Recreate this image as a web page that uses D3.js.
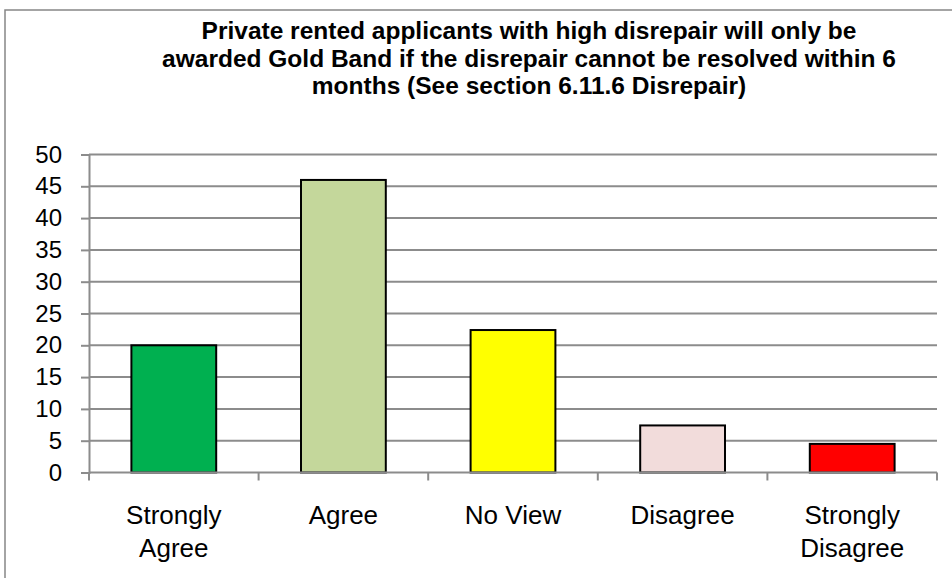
<!DOCTYPE html>
<html>
<head>
<meta charset="utf-8">
<script src="https://cdn.jsdelivr.net/npm/d3@7"></script>
<style>
  body { margin: 0; background: #fff; }
  text { font-family: "Liberation Sans", Arial, sans-serif; }
</style>
</head>
<body>
<svg id="chart" width="952" height="578"></svg>
<script>
// survey answers, percent of respondents
var categories = ['Strongly Agree', 'Agree', 'No View', 'Disagree', 'Strongly Disagree'];
var labelLines = [['Strongly', 'Agree'], ['Agree'], ['No View'], ['Disagree'], ['Strongly', 'Disagree']];
var values = [20, 46, 22.4, 7.4, 4.5];
var barColors = ['#00b050', '#c4d79b', '#ffff00', '#f2dcdb', '#ff0000'];
var yTicks = [0, 5, 10, 15, 20, 25, 30, 35, 40, 45, 50];
var titleLines = [
  'Private rented applicants with high disrepair will only be',
  'awarded Gold Band if the disrepair cannot be resolved within 6',
  'months (See section 6.11.6 Disrepair)'
];

var svg = d3.select('#chart');
var plotLeft = 89, plotRight = 937, plotTop = 154.5, plotBottom = 472.5;

// chart frame
svg.append('rect')
  .attr('x', 5).attr('y', 10)
  .attr('width', 960).attr('height', 600)
  .attr('fill', 'none')
  .attr('stroke', '#868686')
  .attr('stroke-width', 1.5);

svg.append('text')
  .attr('x', 529)
  .attr('y', 39)
  .attr('text-anchor', 'middle')
  .attr('font-size', 24.5)
  .attr('font-weight', 'bold')
  .selectAll('tspan')
  .data(titleLines)
  .enter()
  .append('tspan')
  .attr('x', 529)
  .attr('dy', function(d, i){ return i === 0 ? 0 : 27.5; })
  .text(function(d){ return d; });

var xScale = d3.scaleBand()
  .domain(categories)
  .range([plotLeft, plotRight])
  .paddingInner(0.5)
  .paddingOuter(0.25);
var bandScale = d3.scaleBand().domain(categories).range([plotLeft, plotRight]);
var yScale = d3.scaleLinear().domain([0, 50]).range([plotBottom, plotTop]);

// gridlines
svg.append('g')
  .selectAll('line')
  .data(yTicks.slice(1))
  .enter()
  .append('line')
  .attr('x1', plotLeft).attr('x2', plotRight)
  .attr('y1', function(d){ return yScale(d); })
  .attr('y2', function(d){ return yScale(d); })
  .attr('stroke', '#8c8c8c')
  .attr('stroke-width', 2);

// y axis
var yAxis = d3.axisLeft(yScale).tickValues(yTicks).tickSize(8).tickPadding(19);
var yg = svg.append('g')
  .attr('transform', 'translate(' + plotLeft + ',0)')
  .call(yAxis);
yg.select('.domain').attr('stroke', '#8c8c8c').attr('stroke-width', 2);
yg.selectAll('.tick line').attr('stroke', '#8c8c8c').attr('stroke-width', 2);
yg.selectAll('.tick text')
  .attr('font-size', 24)
  .attr('fill', '#000')
  .style('font-family', '"Liberation Sans", Arial, sans-serif');

// bars
svg.append('g')
  .selectAll('rect')
  .data(values)
  .enter()
  .append('rect')
  .attr('x', function(d, i){ return xScale(categories[i]); })
  .attr('y', function(d){ return yScale(d); })
  .attr('width', xScale.bandwidth())
  .attr('height', function(d){ return yScale(0) - yScale(d); })
  .attr('fill', function(d, i){ return barColors[i]; })
  .attr('stroke', '#000')
  .attr('stroke-width', 2);

// x axis line and ticks at band edges
svg.append('line')
  .attr('x1', plotLeft).attr('x2', plotRight)
  .attr('y1', plotBottom).attr('y2', plotBottom)
  .attr('stroke', '#8c8c8c').attr('stroke-width', 2);
var edges = categories.map(function(c){ return bandScale(c); }).concat([plotRight]);
svg.append('g')
  .selectAll('line')
  .data(edges)
  .enter()
  .append('line')
  .attr('x1', function(d){ return d; }).attr('x2', function(d){ return d; })
  .attr('y1', plotBottom).attr('y2', plotBottom + 8)
  .attr('stroke', '#8c8c8c').attr('stroke-width', 2);

// category labels
svg.append('g')
  .selectAll('text')
  .data(categories)
  .enter()
  .append('text')
  .attr('text-anchor', 'middle')
  .attr('font-size', 26)
  .attr('fill', '#000')
  .each(function(c, i){
    var cx = bandScale(c) + bandScale.bandwidth() / 2;
    d3.select(this).selectAll('tspan')
      .data(labelLines[i])
      .enter()
      .append('tspan')
      .attr('x', cx)
      .attr('y', function(d, j){ return 524 + j * 33; })
      .text(function(d){ return d; });
  });
</script>
</body>
</html>
